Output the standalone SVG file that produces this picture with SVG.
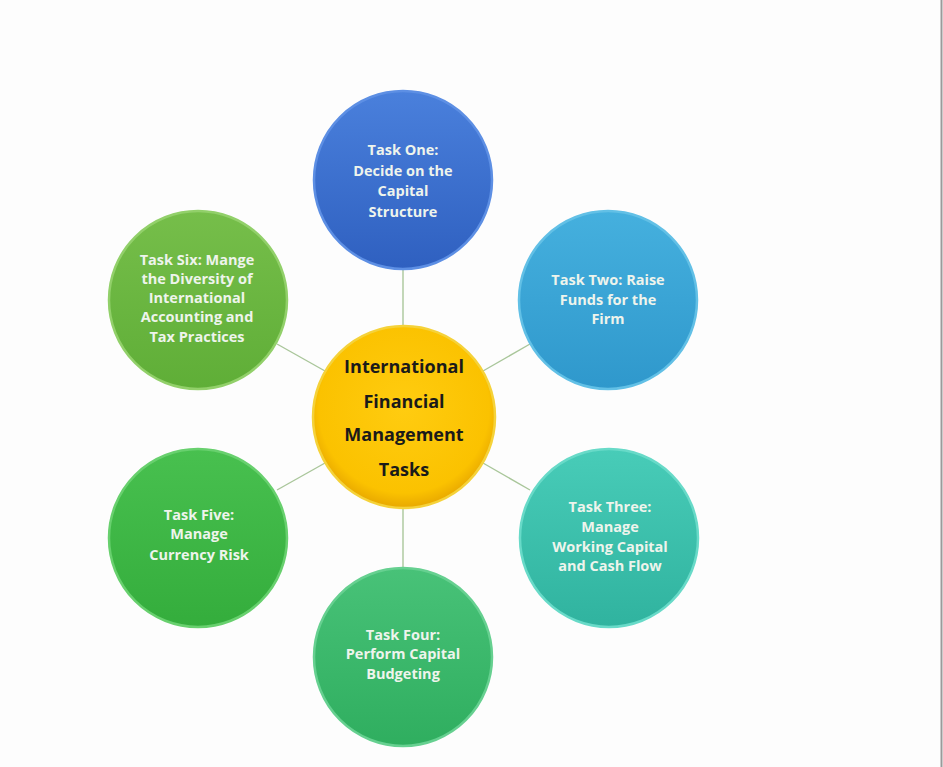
<svg xmlns="http://www.w3.org/2000/svg" width="943" height="767" viewBox="0 0 943 767">
<defs>
<linearGradient id="gBlue" x1="0" y1="0" x2="0" y2="1"><stop offset="0" stop-color="#4a80dc"/><stop offset="1" stop-color="#2f60c0"/></linearGradient>
<linearGradient id="gSky" x1="0" y1="0" x2="0" y2="1"><stop offset="0" stop-color="#45b0de"/><stop offset="1" stop-color="#2f98cc"/></linearGradient>
<linearGradient id="gTeal" x1="0" y1="0" x2="0" y2="1"><stop offset="0" stop-color="#48ccb8"/><stop offset="1" stop-color="#30b39f"/></linearGradient>
<linearGradient id="gSea" x1="0" y1="0" x2="0" y2="1"><stop offset="0" stop-color="#48c278"/><stop offset="1" stop-color="#2fae5f"/></linearGradient>
<linearGradient id="gGreen" x1="0" y1="0" x2="0" y2="1"><stop offset="0" stop-color="#48c04f"/><stop offset="1" stop-color="#34ad3c"/></linearGradient>
<linearGradient id="gLime" x1="0" y1="0" x2="0" y2="1"><stop offset="0" stop-color="#76be4a"/><stop offset="1" stop-color="#5fae37"/></linearGradient>
<radialGradient id="gGold" cx="0.5" cy="0.45" r="0.55"><stop offset="0" stop-color="#ffcc10"/><stop offset="0.85" stop-color="#fbc200"/><stop offset="1" stop-color="#e8a800"/></radialGradient>
</defs>
<style>
.c{stroke-width:2.5}
.t{font-family:"Open Sans","Liberation Sans",sans-serif;font-weight:700;font-size:14.5px;fill:#eef4ec;text-anchor:middle}
.ct{font-family:"Open Sans","Liberation Sans",sans-serif;font-weight:700;font-size:18px;fill:#1a1a1a;text-anchor:middle}
.ln{stroke:#a9c69a;stroke-width:1.4;fill:none}
</style>
<rect width="943" height="767" fill="#fdfdfd"/>
<line x1="941.5" y1="0" x2="941.5" y2="767" stroke="#9a9a9a" stroke-width="2"/>
<g id="connectors">
<line class="ln" x1="403" y1="268" x2="403" y2="326"/>
<line class="ln" x1="483" y1="371" x2="530" y2="344"/>
<line class="ln" x1="483" y1="463" x2="530" y2="490"/>
<line class="ln" x1="403" y1="508" x2="403" y2="567"/>
<line class="ln" x1="325" y1="463" x2="277" y2="490"/>
<line class="ln" x1="325" y1="371" x2="277" y2="344"/>
</g>
<g id="task1">
<circle class="c" cx="403" cy="180" r="89" fill="url(#gBlue)" stroke="#5d8fe4"/>
<text class="t" x="403" y="155">Task One:</text>
<text class="t" x="403" y="176">Decide on the</text>
<text class="t" x="403" y="196">Capital</text>
<text class="t" x="403" y="217">Structure</text>
</g>
<g id="task2">
<circle class="c" cx="608" cy="300" r="89" fill="url(#gSky)" stroke="#62c0e6"/>
<text class="t" x="608" y="285">Task Two: Raise</text>
<text class="t" x="608" y="305">Funds for the</text>
<text class="t" x="608" y="324">Firm</text>
</g>
<g id="task3">
<circle class="c" cx="609" cy="538" r="89" fill="url(#gTeal)" stroke="#68dac8"/>
<text class="t" x="610" y="512">Task Three:</text>
<text class="t" x="610" y="532">Manage</text>
<text class="t" x="610" y="552">Working Capital</text>
<text class="t" x="610" y="571">and Cash Flow</text>
</g>
<g id="task4">
<circle class="c" cx="403" cy="657" r="89" fill="url(#gSea)" stroke="#66d090"/>
<text class="t" x="403" y="640">Task Four:</text>
<text class="t" x="403" y="659">Perform Capital</text>
<text class="t" x="403" y="679">Budgeting</text>
</g>
<g id="task5">
<circle class="c" cx="198" cy="538" r="89" fill="url(#gGreen)" stroke="#68d06e"/>
<text class="t" x="199" y="520">Task Five:</text>
<text class="t" x="199" y="539">Manage</text>
<text class="t" x="199" y="560">Currency Risk</text>
</g>
<g id="task6">
<circle class="c" cx="198" cy="300" r="89" fill="url(#gLime)" stroke="#92d06a"/>
<text class="t" x="197" y="265">Task Six: Mange</text>
<text class="t" x="197" y="284">the Diversity of</text>
<text class="t" x="197" y="303">International</text>
<text class="t" x="197" y="322">Accounting and</text>
<text class="t" x="197" y="342">Tax Practices</text>
</g>
<g id="center">
<circle cx="404" cy="417" r="91" fill="url(#gGold)" stroke="#f5d23a" stroke-width="2.5"/>
<text class="ct" x="404" y="373">International</text>
<text class="ct" x="404" y="408">Financial</text>
<text class="ct" x="404" y="441">Management</text>
<text class="ct" x="404" y="476">Tasks</text>
</g>
</svg>
